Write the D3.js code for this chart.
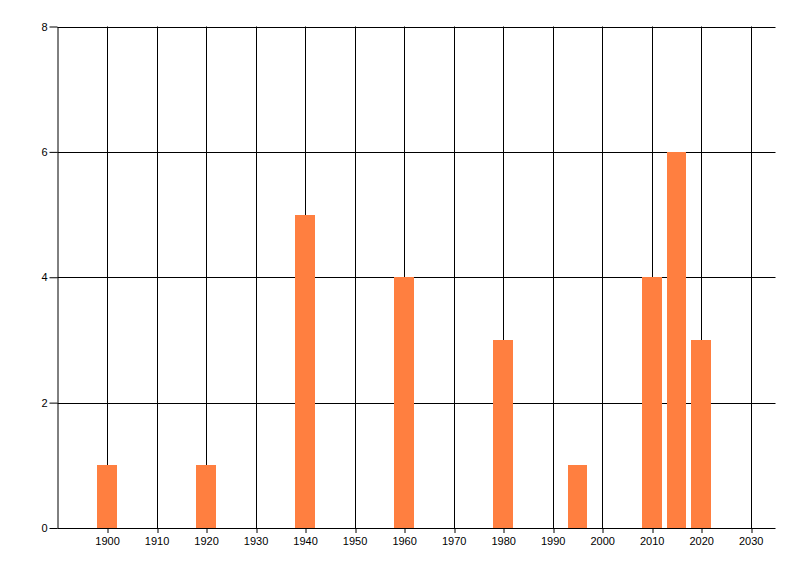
<!DOCTYPE html>
<html>
<head>
<meta charset="utf-8">
<script src="https://cdn.jsdelivr.net/npm/d3@7"></script>
<style>
  html, body { margin: 0; padding: 0; background: #fff; }
  svg { display: block; }
  text { font-family: "Liberation Sans", Arial, sans-serif; font-size: 11px; fill: #000; }
</style>
</head>
<body>
<svg id="chart" width="800" height="576"></svg>
<script>
// Data
const years = [1900, 1920, 1940, 1960, 1980, 1995, 2010, 2015, 2020];
const counts = [1, 1, 5, 4, 3, 1, 4, 6, 3];
const xTicks = [1900, 1910, 1920, 1930, 1940, 1950, 1960, 1970, 1980, 1990, 2000, 2010, 2020, 2030];
const yTicks = [0, 2, 4, 6, 8];
const xDomain = [1890, 2035];
const yDomain = [0, 8];
const barWidthYears = 4;

const svg = d3.select("#chart");
const plotLeft = 57.5, plotRight = 775.5, plotTop = 26.5, plotBottom = 528;

const x = d3.scaleLinear().domain(xDomain).range([plotLeft, plotRight]);
const y = d3.scaleLinear().domain(yDomain).range([plotBottom, plotTop]);

// Grid lines
const grid = svg.append("g");
grid.selectAll("line.v").data(xTicks).join("line")
  .attr("x1", d => Math.round(x(d)) + 0.5).attr("x2", d => Math.round(x(d)) + 0.5)
  .attr("y1", plotTop).attr("y2", plotBottom)
  .attr("stroke", "#000").attr("stroke-width", 1);
grid.selectAll("line.h").data(yTicks.filter(d => d > 0)).join("line")
  .attr("x1", plotLeft).attr("x2", plotRight)
  .attr("y1", d => Math.round(y(d)) + 0.5).attr("y2", d => Math.round(y(d)) + 0.5)
  .attr("stroke", "#000").attr("stroke-width", 1);

// Bars (snapped to whole pixels)
svg.append("g").attr("shape-rendering", "crispEdges").selectAll("rect").data(years).join("rect")
  .attr("x", (d) => Math.round(x(d - barWidthYears / 2)))
  .attr("width", (d) => Math.round(x(d + barWidthYears / 2)) - Math.round(x(d - barWidthYears / 2)))
  .attr("y", (d, i) => Math.round(y(counts[i])))
  .attr("height", (d, i) => Math.round(y(0)) - Math.round(y(counts[i])))
  .attr("fill", "#ff7f40");

// Axes
const xAxis = d3.axisBottom(x).tickValues(xTicks).tickFormat(d3.format("d")).tickSize(5).tickSizeOuter(0).tickPadding(4);
const gx = svg.append("g").attr("transform", `translate(0,${plotBottom})`).call(xAxis);
gx.attr("font-family", null).attr("font-size", null);
gx.select(".domain").attr("stroke", "#000").attr("d", `M${plotLeft},0.5H${plotRight}`);
gx.selectAll(".tick line").attr("stroke", "#000").attr("transform", d => `translate(${Math.round(x(d)) + 0.5 - x(d)},0)`);

const yAxis = d3.axisLeft(y).tickValues(yTicks).tickSize(8).tickSizeOuter(0).tickPadding(2);
const gy = svg.append("g").attr("transform", `translate(${plotLeft},0)`).call(yAxis);
gy.attr("font-family", null).attr("font-size", null);
gy.select(".domain").attr("stroke", "#000");
gy.selectAll(".tick line").attr("stroke", "#000");
</script>
</body>
</html>
